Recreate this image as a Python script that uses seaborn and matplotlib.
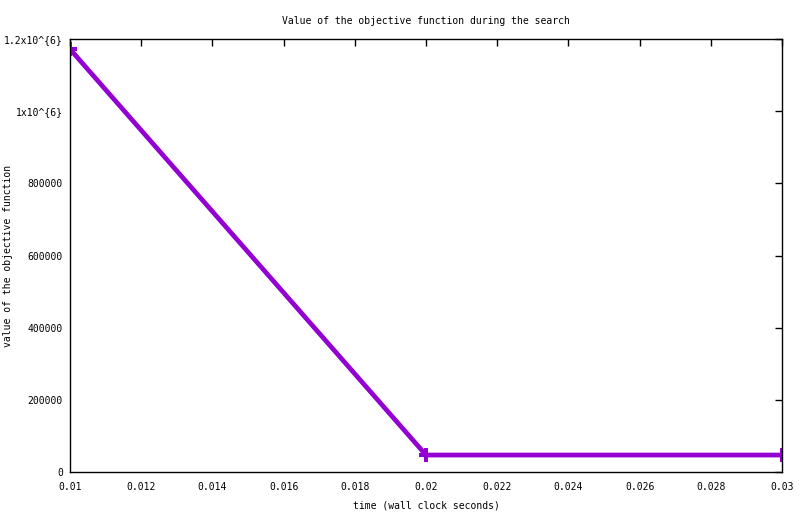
import matplotlib
matplotlib.use("Agg")
import matplotlib.pyplot as plt
import seaborn as sns
import pandas as pd
from matplotlib.ticker import FixedLocator, FixedFormatter

times = [0.01, 0.02, 0.03]
values = [1172000, 47000, 47000]
xticks = [0.01, 0.012, 0.014, 0.016, 0.018, 0.02, 0.022, 0.024, 0.026, 0.028, 0.03]
xticklabels = ["0.01", "0.012", "0.014", "0.016", "0.018", "0.02", "0.022", "0.024", "0.026", "0.028", "0.03"]
yticks = [0, 200000, 400000, 600000, 800000, 1000000, 1200000]
yticklabels = ["0", "200000", "400000", "600000", "800000", "1x10^{6}", "1.2x10^{6}"]

sns.set_style("white")
plt.rcParams['font.family'] = ['DejaVu Sans Mono']
plt.rcParams['font.size'] = 7
plt.rcParams['text.color'] = 'black'
plt.rcParams['axes.labelcolor'] = 'black'

df = pd.DataFrame({"time": times, "value": values})
fig = plt.figure(figsize=(8, 5.14), dpi=100)
ax = fig.add_axes([70/800, 42/514, 712/800, 433/514])
sns.lineplot(data=df, x="time", y="value", ax=ax, color="#9400D3", linewidth=3.4,
             marker="P", markersize=10, markeredgewidth=0)
ax.set_xlim(0.01, 0.03)
ax.set_ylim(0, 1200000)
ax.xaxis.set_major_locator(FixedLocator(xticks))
ax.xaxis.set_major_formatter(FixedFormatter(xticklabels))
ax.yaxis.set_major_locator(FixedLocator(yticks))
ax.yaxis.set_major_formatter(FixedFormatter(yticklabels))
ax.tick_params(axis="both", direction="in", length=5, width=1, top=True, right=True,
               colors="black", labelsize=7)
ax.tick_params(axis="x", pad=7)
ax.tick_params(axis="y", pad=5)
for s in ax.spines.values():
    s.set_color("black")
    s.set_linewidth(1)
ax.set_xlabel("time (wall clock seconds)", fontsize=7, labelpad=6, color="black")
ax.set_ylabel("value of the objective function", fontsize=7, color="black")
ax.yaxis.set_label_coords(-0.080, 0.5)
ax.set_title("Value of the objective function during the search", fontsize=7, pad=11, color="black")
fig.savefig("out.png", dpi=100)
